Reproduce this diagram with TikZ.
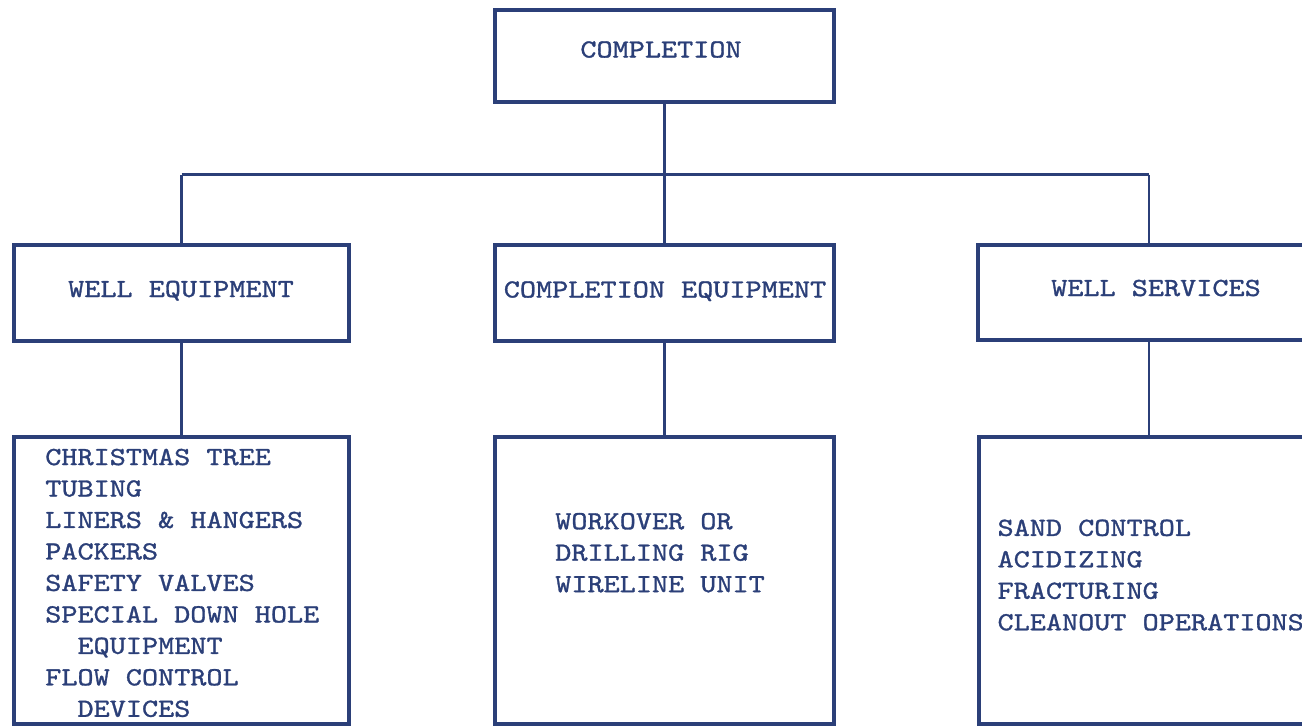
\documentclass[tikz,border=0pt]{standalone}
\usepackage{fontspec}
\usetikzlibrary{fit}
\newfontfamily\typewriter{lmmono10-regular.otf}[FakeStretch=1.175,FakeBold=1.2]
\definecolor{ink}{HTML}{2B3F78}
\begin{document}
\begin{tikzpicture}[x=0.75pt,y=-0.75pt,
  every node/.style={font=\typewriter\fontsize{19.6pt}{23.6pt}\selectfont, text=ink},
  box/.style={draw=ink, line width=2.6pt, inner sep=0pt, rectangle},
  link/.style={draw=ink, line width=2pt},
  heading/.style={inner sep=0pt, text height=12pt, text depth=0pt},
  listtext/.style={anchor=north west, inner sep=0pt, align=left}]
  \useasboundingbox (0,0) rectangle (1302,726);
  \clip (0,0) rectangle (1302,726);

  % top level
  \node[box, fit={(495,10)(834,102)}] (completion) {};
  \node[heading] (completionlabel) at (661,49.5) {COMPLETION};

  % second level
  \node[box, fit={(14,245)(349,341)}] (welleq) {};
  \node[heading] (welleqlabel) at (181,289) {WELL EQUIPMENT};
  \node[box, fit={(495,245)(834,341)}] (compeq) {};
  \node[heading] (compeqlabel) at (665,289.5) {COMPLETION EQUIPMENT};
  \node[box, fit={(978,245)(1334,340)}] (services) {};
  \node[heading] (serviceslabel) at (1156,288) {WELL SERVICES};

  % third level boxes
  \node[box, fit={(14,437)(349,724)}] (welllist) {};
  \node[box, fit={(495,437)(834,724)}] (complist) {};
  \node[box, fit={(979,437)(1340,724)}] (servlist) {};

  % list contents
  \node[listtext] (welltext) at (45,448.5) {CHRISTMAS TREE\\TUBING\\LINERS \& HANGERS\\PACKERS\\SAFETY VALVES\\SPECIAL DOWN HOLE\\\phantom{XX}EQUIPMENT\\FLOW CONTROL\\\phantom{XX}DEVICES};
  \node[listtext] (comptext) at (555,512.7) {WORKOVER OR\\DRILLING RIG\\WIRELINE UNIT};
  \node[listtext] (servtext) at (997.3,519.3) {SAND CONTROL\\ACIDIZING\\FRACTURING\\CLEANOUT OPERATIONS};

  % connectors
  \coordinate (busL) at (181.5,174.5);
  \coordinate (busR) at (1149,174.5);
  \draw[link] (completion.south) -- (compeq.north);
  \draw[link] (busL) -- (busR);
  \draw[link] (busL) -- (welleq.north);
  \draw[link] (busR) -- (busR |- services.north);
  \draw[link] (welleq.south) -- (welllist.north);
  \draw[link] (compeq.south) -- (complist.north);
  \draw[link] (busR |- services.south) -- (busR |- servlist.north);
\end{tikzpicture}
\end{document}
